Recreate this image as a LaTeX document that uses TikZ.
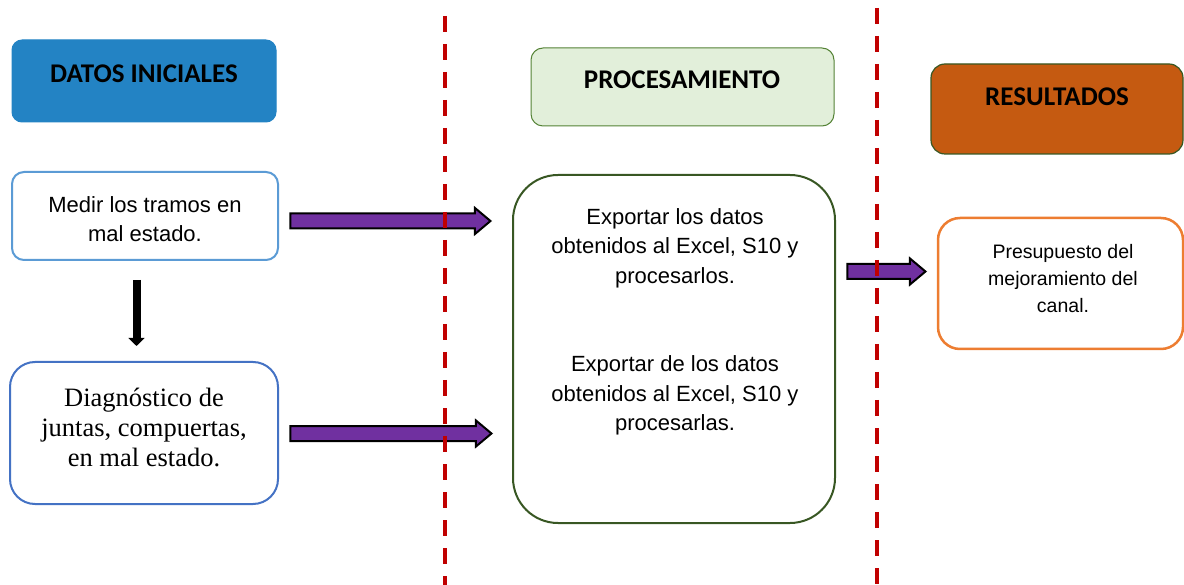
\documentclass[tikz,border=0pt]{standalone}
\usepackage{fontspec}
\setmainfont{Liberation Sans}
\newfontfamily\hdrfont{Carlito}
\newfontfamily\serifb{Liberation Serif}
\usetikzlibrary{shapes.arrows,arrows.meta}
\definecolor{hdrblue}{RGB}{35,131,196}
\definecolor{lightblue}{RGB}{91,155,213}
\definecolor{midblue}{RGB}{68,114,196}
\definecolor{palegreen}{RGB}{226,239,218}
\definecolor{leafgreen}{RGB}{84,130,53}
\definecolor{darkgreen}{RGB}{56,87,35}
\definecolor{rust}{RGB}{197,90,17}
\definecolor{orangeline}{RGB}{237,125,49}
\definecolor{violet2}{RGB}{112,48,160}
\definecolor{darkred}{RGB}{192,0,0}
\tikzset{
  box/.style={rectangle, inner sep=0pt, outer sep=0pt, fill=white},
  hdrtext/.style={font=\hdrfont\bfseries\fontsize{27}{30}\selectfont, text=black, inner sep=0pt},
  bodytext/.style={font=\fontsize{22}{29.5}\selectfont, align=center, inner sep=0pt},
  blockarrow/.style={single arrow, draw=black, line width=2pt, fill=violet2,
    inner xsep=0pt, inner ysep=6.5pt, text height=0pt, text depth=0pt,
    single arrow head extend=5.5pt, single arrow tip angle=80, outer sep=0pt},
  divider/.style={draw=darkred, line width=3.5pt, dash pattern=on 16pt off 12pt},
  downarrow/.style={draw=black, line width=8pt, -{Triangle[width=16pt,length=8pt]}}
}
\begin{document}
\begin{tikzpicture}[x=1pt,y=-1pt]
\useasboundingbox (0,0) rectangle (1184,585);

% headers
\node[box, fill=hdrblue, draw=hdrblue, line width=1pt, rounded corners=10pt,
  minimum width=264pt, minimum height=82pt] (datos) at (144,81) {};
\node[hdrtext] (datosT) at (144,73.5) {DATOS INICIALES};

\node[box, fill=palegreen, draw=leafgreen, line width=1pt, rounded corners=12pt,
  minimum width=303pt, minimum height=78pt] (proc) at (682.5,87) {};
\node[hdrtext] (procT) at (682,80) {PROCESAMIENTO};

\node[box, fill=rust, draw=darkgreen, line width=1.2pt, rounded corners=14pt,
  minimum width=252pt, minimum height=90pt] (res) at (1057,109) {};
\node[hdrtext] (resT) at (1057,96.5) {RESULTADOS};

% left column
\node[box, draw=lightblue, line width=2pt, rounded corners=12pt,
  minimum width=266pt, minimum height=88pt] (medir) at (145,216) {};
\node[bodytext] (medirT) at (145,219) {Medir los tramos en\\mal estado.};

\node[box, draw=midblue, line width=2pt, rounded corners=25pt,
  minimum width=268pt, minimum height=142pt] (diag) at (144,433) {};
\node[font=\serifb\fontsize{26.5}{30}\selectfont, align=center, inner sep=0pt]
  (diagT) at (144,427.5) {Diagnóstico de\\juntas, compuertas,\\en mal estado.};

% middle
\node[box, draw=darkgreen, line width=2pt, rounded corners=45pt,
  minimum width=322pt, minimum height=348pt] (big) at (674,349) {};
\node[bodytext] (bigT) at (675,322) {Exportar los datos\\obtenidos al Excel, S10 y\\procesarlos.\\[59pt]Exportar de los datos\\obtenidos al Excel, S10 y\\procesarlas.};

% right
\node[box, draw=orangeline, line width=2.5pt, rounded corners=22pt,
  minimum width=245pt, minimum height=131pt] (pres) at (1060.5,283.5) {};
\node[font=\fontsize{19.5}{27}\selectfont, align=center, inner sep=0pt]
  (presT) at (1063,279) {Presupuesto del\\mejoramiento del\\canal.};

% arrows
\node[blockarrow, minimum height=200pt] (arr1) at (386,221) {};
\node[blockarrow, minimum height=201pt] (arr2) at (386.5,433.5) {};
\node[blockarrow, minimum height=78pt] (arr3) at (882,271.5) {};

\coordinate (dTop) at (136.5,280);
\coordinate (dBot) at (136.5,346);
\draw[downarrow] (dTop) -- (dBot);

% dividers
\coordinate (l1t) at (445,16);
\coordinate (l1b) at (445,590);
\coordinate (l2t) at (877,8);
\coordinate (l2b) at (877,590);
\draw[divider] (l1t) -- (l1b);
\draw[divider] (l2t) -- (l2b);
\end{tikzpicture}
\end{document}
